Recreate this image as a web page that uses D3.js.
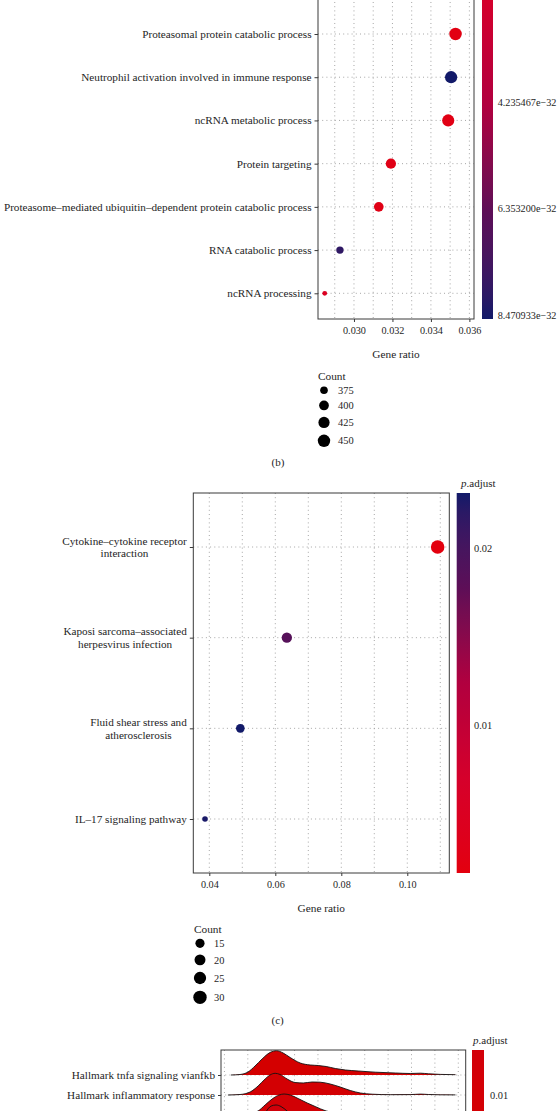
<!DOCTYPE html>
<html><head><meta charset="utf-8">
<script src="https://cdn.jsdelivr.net/npm/d3@7"></script>
<style>
body{margin:0;background:#fff}
text{font-family:"Liberation Serif","Times New Roman",serif;fill:#1e1e1e}
</style>
</head><body>
<svg id="chart" width="558" height="1111"></svg>
<script>
// ---------------- Panel (b) data ----------------
const bTerms = ["Proteasomal protein catabolic process","Neutrophil activation involved in immune response","ncRNA metabolic process","Protein targeting","Proteasome–mediated ubiquitin–dependent protein catabolic process","RNA catabolic process","ncRNA processing"];
const bGeneRatio = [0.03528,0.03505,0.03490,0.03192,0.03129,0.02927,0.02848];
const bCount = [450,447,445,407,399,373,363];
const bPAdjust = [0.20e-32,8.55e-32,0.35e-32,0.50e-32,0.40e-32,8.00e-32,1.30e-32];
const bXTicks = [0.030,0.032,0.034,0.036];
const bXMinor = [0.029,0.031,0.033,0.035];
const bXLimits = [0.02813,0.03624];
const bPLimits = [1.0e-34,8.55e-32];
const bPBreaks = [4.235467e-32,6.353200e-32,8.470933e-32];
const bSizeBreaks = [375,400,425,450];

// ---------------- Panel (c) data ----------------
const cTerms = ["Cytokine–cytokine receptor interaction","Kaposi sarcoma–associated herpesvirus infection","Fluid shear stress and atherosclerosis","IL–17 signaling pathway"];
const cGeneRatio = [0.1092,0.0635,0.0494,0.0387];
const cCount = [31,18,14,11];
const cPAdjust = [0.00164,0.0184,0.0231,0.0228];
const cXTicks = [0.04,0.06,0.08,0.10];
const cXMinor = [0.05,0.07,0.09,0.11];
const cXLimits = [0.03515,0.11273];
const cPLimits = [0.00164,0.0231];
const cPBreaks = [0.01,0.02];
const cSizeBreaks = [15,20,25,30];

// ---------------- Panel (d) data ----------------
const dTerms = ["Hallmark tnfa signaling vianfkb","Hallmark inflammatory response","Hallmark kras signaling up","Hallmark allograft rejection"];
const dPAdjust = [0.00998,0.00999,0.01000,0.01002];
const dPBreaks = [0.01];
const dXTicks = [2,4,6,8,10];
const dXMinor = [1,3,5,7,9,11];
const dXLimits = [0.854,11.317];
// ridge outlines: [value, density height in row units]
const dTnfa = [[1.28,0],[1.67,0.025],[2.01,0.15],[2.31,0.45],[2.61,0.8],[2.95,1.125],[3.23,1.215],[3.51,1.1],[3.81,0.875],[4.24,0.6],[4.67,0.5],[5.01,0.475],[5.35,0.425],[5.74,0.325],[6.17,0.25],[6.72,0.2],[7.45,0.14],[8.31,0.1],[8.95,0.075],[9.38,0.09],[9.72,0.06],[10.23,0.03],[10.88,0.015]];
const dInflam = [[1.15,0],[1.67,0.025],[2.10,0.15],[2.44,0.45],[2.74,0.8],[2.95,1.0],[3.17,1.085],[3.38,1.025],[3.68,0.8],[4.02,0.625],[4.37,0.6],[4.75,0.65],[5.09,0.64],[5.52,0.55],[5.95,0.4],[6.38,0.225],[6.81,0.1],[7.32,0.04],[8.09,0.015],[8.95,0.02],[9.38,0.045],[9.72,0.025],[10.23,0.01],[10.88,0.005]];
const dKras = [[1.24,0],[1.88,0.025],[2.18,0.1],[2.44,0.2],[2.74,0.5],[3.04,0.8],[3.34,1.0],[3.55,1.05],[3.81,1.0],[4.15,0.825],[4.54,0.6],[4.88,0.425],[5.35,0.2],[5.95,0.1],[6.81,0.05],[8.09,0.025],[10.88,0.005]];
const dAllograft = [[1.24,0],[2.01,0.1],[2.44,0.5],[2.74,1.1],[3.00,1.45],[3.21,1.5],[3.42,1.425],[3.68,1.2],[4.02,0.85],[4.45,0.5],[5.09,0.25],[5.95,0.125],[7.24,0.05],[10.88,0.005]];
const dRidges = [dTnfa,dInflam,dKras,dAllograft];

// ---------------- helpers ----------------
const svg = d3.select("#chart");
svg.append("rect").attr("width",558).attr("height",1111).attr("fill","#fff");
const defs = svg.append("defs");
const INK = "#1e1e1e", FRAME = "#3a3a3a", GRID = "#9c9c9c";
const STOPS = ["#e3000e","#d5002b","#b1003f","#5d0e57","#121a69"];
const LABEL_FS = 11.2;

function palette(lim){
  return d3.scaleLinear()
    .domain(STOPS.map((s,i)=>lim[0]+(lim[1]-lim[0])*i/(STOPS.length-1)))
    .range(STOPS).interpolate(d3.interpolateLab);
}
function sizer(cmin,cmax,r0,r1){
  const s = d3.scaleLinear().domain([0,1]).range([r0,r1]);
  return c => s(Math.sqrt(Math.max(0,(c-cmin)/(cmax-cmin))));
}
function wrap(s,w){
  const words=s.split(" "); const lines=[]; let cur="";
  words.forEach(wd=>{ if(cur && (cur+" "+wd).length>w){lines.push(cur);cur=wd;} else cur = cur? cur+" "+wd : wd; });
  if(cur) lines.push(cur); return lines;
}
function label(g,lines,xRight,yc,lh,fs){
  const t=g.append("text").attr("font-size",fs).attr("text-anchor","middle");
  const n=lines.length;
  const sp=lines.map((s,i)=>t.append("tspan").attr("y",yc+(i-(n-1)/2)*lh).attr("dy","0.35em").text(s));
  const w=Math.max(...sp.map(s=>s.node().getComputedTextLength()));
  sp.forEach(s=>s.attr("x",xRight-w/2));
}
function gridV(g,x,vals,y1,y2){
  g.selectAll(null).data(vals).join("line")
    .attr("x1",d=>x(d)).attr("x2",d=>x(d)).attr("y1",y1).attr("y2",y2)
    .attr("stroke",GRID).attr("stroke-width",0.9).attr("stroke-dasharray","1,3.2");
}
function gridH(g,y,vals,x1,x2){
  g.selectAll(null).data(vals).join("line")
    .attr("x1",x1).attr("x2",x2).attr("y1",d=>y(d)).attr("y2",d=>y(d))
    .attr("stroke",GRID).attr("stroke-width",0.9).attr("stroke-dasharray","1,3.2");
}
function colorbar(id,g,col,lim,x,w,yLo,yHi,breaks,fmt,labX,fs){
  const grad=defs.append("linearGradient").attr("id",id)
    .attr("gradientUnits","userSpaceOnUse").attr("x1",0).attr("x2",0).attr("y1",yLo).attr("y2",yHi);
  d3.range(0,1.0001,0.05).forEach(t=>grad.append("stop").attr("offset",t)
    .attr("stop-color",col(lim[0]+(lim[1]-lim[0])*t)));
  g.append("rect").attr("x",x).attr("width",w).attr("y",Math.min(yLo,yHi)).attr("height",Math.abs(yHi-yLo))
    .attr("fill",`url(#${id})`);
  const ys=d3.scaleLinear().domain(lim).range([yLo,yHi]);
  g.selectAll(null).data(breaks).join("text").attr("x",labX).attr("y",d=>ys(d)).attr("dy","0.35em")
    .attr("font-size",fs).text(fmt);
}
function padjTitle(g,x,y){
  const t=g.append("text").attr("x",x).attr("y",y).attr("dy","0.35em").attr("font-size",11);
  t.append("tspan").attr("font-style","italic").text("p");
  t.append("tspan").text(".adjust");
}

// ---------------- dot plot panels ----------------
function dotPanel(o){
  const g=svg.append("g");
  const x=d3.scaleLinear().domain(o.xLim).range([o.left,o.right]);
  const y=d3.scalePoint().domain(o.terms).range(o.rows);
  const col=palette(o.pLim);
  const rad=sizer(o.sizeMin,o.sizeMax,o.r0,o.r1);
  gridV(g,x,[...o.xMinor,...o.xTicks],o.top,o.bottom);
  gridH(g,y,o.terms,o.left,o.right);
  g.selectAll(null).data(o.terms).join("circle")
    .attr("cx",(d,i)=>x(o.ratio[i])).attr("cy",d=>y(d))
    .attr("r",(d,i)=>rad(o.count[i])).attr("fill",(d,i)=>col(o.padj[i]));
  g.append("rect").attr("x",o.left).attr("y",o.top).attr("width",o.right-o.left)
    .attr("height",o.bottom-o.top).attr("fill","none").attr("stroke",FRAME).attr("stroke-width",1);
  const ax=g.append("g").attr("transform",`translate(0,${o.bottom})`)
    .call(d3.axisBottom(x).tickValues(o.xTicks).tickSize(3).tickPadding(5).tickFormat(o.xFmt));
  ax.select(".domain").remove();
  ax.selectAll("line").attr("stroke",FRAME);
  ax.selectAll("text").attr("font-size",10.2).attr("font-family",null).attr("fill",INK);
  const ay=g.append("g").attr("transform",`translate(${o.left},0)`)
    .call(d3.axisLeft(y).tickSize(3.5).tickFormat(""));
  ay.select(".domain").remove();
  ay.selectAll("line").attr("stroke",FRAME);
  o.terms.forEach(t=>label(g,wrap(t,o.wrapW),o.left-6.5,y(t),12.7,LABEL_FS));
  g.append("text").attr("x",(o.left+o.right)/2).attr("y",o.titleY).attr("dy","0.35em")
    .attr("text-anchor","middle").attr("font-size",11.3).text("Gene ratio");
  // size legend
  g.append("text").attr("x",o.legX-6).attr("y",o.legY).attr("dy","0.35em").attr("font-size",11.3).text("Count");
  let yy=o.legY+14.3, prevH=null;
  o.sizeBreaks.forEach((c,i)=>{
    const r=rad(c), h=2*r+6.5;
    if(prevH!==null) yy+= (prevH+h)/2;
    g.append("circle").attr("cx",o.legX).attr("cy",yy).attr("r",r).attr("fill","#000");
    g.append("text").attr("x",o.legX+14).attr("y",yy).attr("dy","0.35em").attr("font-size",10.4).text(c);
    prevH=h;
  });
  g.append("text").attr("x",o.tagX).attr("y",o.tagY).attr("dy","0.35em").attr("text-anchor","middle")
    .attr("font-size",11).text(o.tag);
  return {g,col};
}

// panel b
const pb=dotPanel({terms:bTerms,ratio:bGeneRatio,count:bCount,padj:bPAdjust,
  xLim:bXLimits,xTicks:bXTicks,xMinor:bXMinor,xFmt:d3.format(".3f"),
  left:318,right:474,top:-40,bottom:319,rows:[34,293.3],
  pLim:bPLimits,sizeMin:363,sizeMax:450,r0:2.4,r1:6.2,wrapW:200,
  titleY:354.3,legX:324,legY:376,sizeBreaks:bSizeBreaks,tag:"(b)",tagX:278,tagY:462});
colorbar("gb",pb.g,pb.col,bPLimits,482,11,-110,319,bPBreaks,
  d=>d.toExponential(6).replace("-","−"),497.7,10.2);

// panel c
const pc=dotPanel({terms:cTerms,ratio:cGeneRatio,count:cCount,padj:cPAdjust,
  xLim:cXLimits,xTicks:cXTicks,xMinor:cXMinor,xFmt:d3.format(".2f"),
  left:193.3,right:449.3,top:493,bottom:873,rows:[547,819],
  pLim:cPLimits,sizeMin:11,sizeMax:31,r0:2.8,r1:6.8,wrapW:27,
  titleY:907.7,legX:200,legY:929,sizeBreaks:cSizeBreaks,tag:"(c)",tagX:277.6,tagY:1020});
colorbar("gc",pc.g,pc.col,cPLimits,456.7,13.3,873,493,cPBreaks,d3.format(".2f"),474,10.4);
padjTitle(pc.g,461,483);

// ---------------- ridge panel (d) ----------------
(function(){
  const g=svg.append("g");
  const left=221,right=465.7,top=1050,bottom=1200;
  const x=d3.scaleLinear().domain(dXLimits).range([left,right]);
  const y=d3.scalePoint().domain(dTerms).range([1075,1135]);
  const h=d3.scaleLinear().domain([0,1]).range([0,20]);
  const dLim=d3.extent(dPAdjust);
  const col=d3.scaleLinear().domain(dLim).range(["#d40000","#d0000a"]);
  gridV(g,x,[...dXMinor,...dXTicks],top,bottom);
  gridH(g,y,dTerms,left,right);
  dRidges.forEach((pts,i)=>{
    const base=y(dTerms[i]);
    const area=d3.area().x(d=>x(d[0])).y0(base).y1(d=>base-h(d[1])).curve(d3.curveMonotoneX);
    const line=d3.line().x(d=>x(d[0])).y(d=>base-h(d[1])).curve(d3.curveMonotoneX);
    g.append("path").datum(pts).attr("d",area).attr("fill",col(dPAdjust[i]));
    g.append("path").datum(pts).attr("d",line).attr("fill","none").attr("stroke","#111").attr("stroke-width",0.9);
  });
  g.append("rect").attr("x",left).attr("y",top).attr("width",right-left).attr("height",bottom-top)
    .attr("fill","none").attr("stroke",FRAME).attr("stroke-width",1);
  const ay=g.append("g").attr("transform",`translate(${left},0)`).call(d3.axisLeft(y).tickSize(3).tickFormat(""));
  ay.select(".domain").remove(); ay.selectAll("line").attr("stroke",FRAME);
  dTerms.forEach(t=>label(g,[t],left-6,y(t),12.7,LABEL_FS));
  const cb=d3.scaleLinear().domain(dLim).range(["#d50000","#d3000a"]);
  colorbar("gd",g,cb,dLim,472,12,1140,1050,dPBreaks,d3.format(".2f"),490,10.4);
  padjTitle(g,473,1040);
})();
</script>
</body></html>
